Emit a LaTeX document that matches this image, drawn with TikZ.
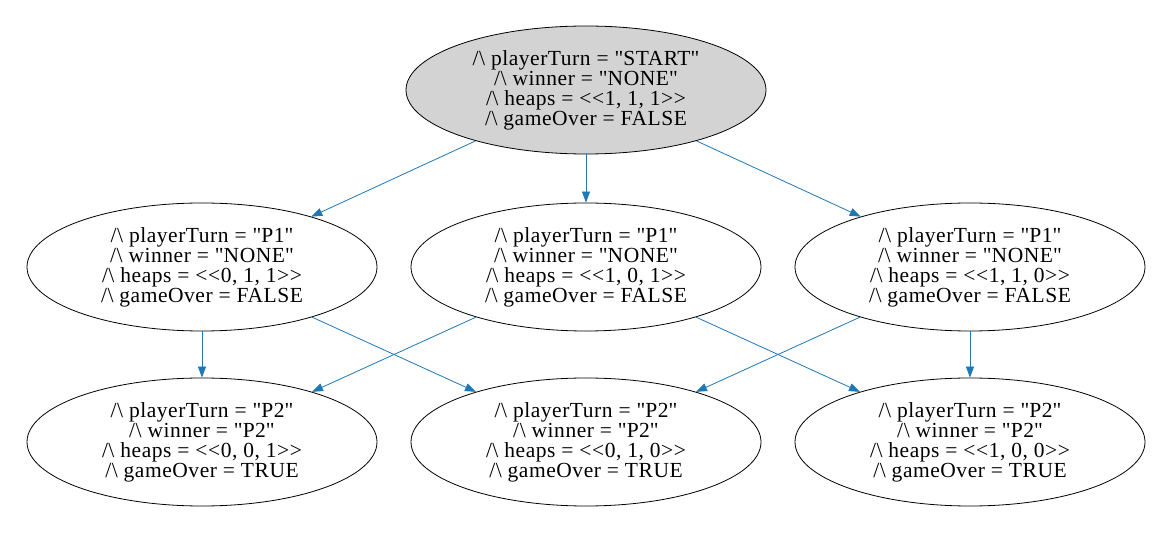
\documentclass[tikz,border=0pt]{standalone}
\usepackage{fontspec}
\setmainfont[Ligatures=NoCommon,LetterSpace=2.5]{Liberation Serif}
\usetikzlibrary{shapes.geometric,arrows.meta}
\definecolor{edgeblue}{RGB}{31,119,180}
\definecolor{topfill}{RGB}{211,211,211}
\newcommand{\andop}{/\textbackslash\ }
\newcommand{\q}{\textquotedbl}
\tikzset{
  state/.style={ellipse,draw=black,line width=0.8pt,inner sep=0pt,
    minimum width=350pt,minimum height=128pt,align=center,
    font=\fontsize{21.5}{20}\selectfont\rmfamily},
  topstate/.style={state,fill=topfill,minimum width=360pt},
  edge/.style={draw=edgeblue,line width=0.8pt,-{Triangle[length=11pt,width=8pt]}}
}
\begin{document}
\begin{tikzpicture}[x=1pt,y=1pt]
\useasboundingbox (0,0) rectangle (1173,-534);
\node[topstate] (s0) at (586,-90) {\andop playerTurn = \q START\q\\\andop winner = \q NONE\q\\\andop heaps = <{}<1, 1, 1>{}>\\\andop gameOver = FALSE};
\node[state] (m1) at (202,-267) {\andop playerTurn = \q P1\q\\\andop winner = \q NONE\q\\\andop heaps = <{}<0, 1, 1>{}>\\\andop gameOver = FALSE};
\node[state] (m2) at (586,-267) {\andop playerTurn = \q P1\q\\\andop winner = \q NONE\q\\\andop heaps = <{}<1, 0, 1>{}>\\\andop gameOver = FALSE};
\node[state] (m3) at (970,-267) {\andop playerTurn = \q P1\q\\\andop winner = \q NONE\q\\\andop heaps = <{}<1, 1, 0>{}>\\\andop gameOver = FALSE};
\node[state] (b1) at (202,-442) {\andop playerTurn = \q P2\q\\\andop winner = \q P2\q\\\andop heaps = <{}<0, 0, 1>{}>\\\andop gameOver = TRUE};
\node[state] (b2) at (586,-442) {\andop playerTurn = \q P2\q\\\andop winner = \q P2\q\\\andop heaps = <{}<0, 1, 0>{}>\\\andop gameOver = TRUE};
\node[state] (b3) at (970,-442) {\andop playerTurn = \q P2\q\\\andop winner = \q P2\q\\\andop heaps = <{}<1, 0, 0>{}>\\\andop gameOver = TRUE};
\draw[edge] (s0) -- (m1);
\draw[edge] (s0) -- (m2);
\draw[edge] (s0) -- (m3);
\draw[edge] (m1) -- (b1);
\draw[edge] (m1) -- (b2);
\draw[edge] (m2) -- (b1);
\draw[edge] (m2) -- (b3);
\draw[edge] (m3) -- (b2);
\draw[edge] (m3) -- (b3);
\end{tikzpicture}
\end{document}
